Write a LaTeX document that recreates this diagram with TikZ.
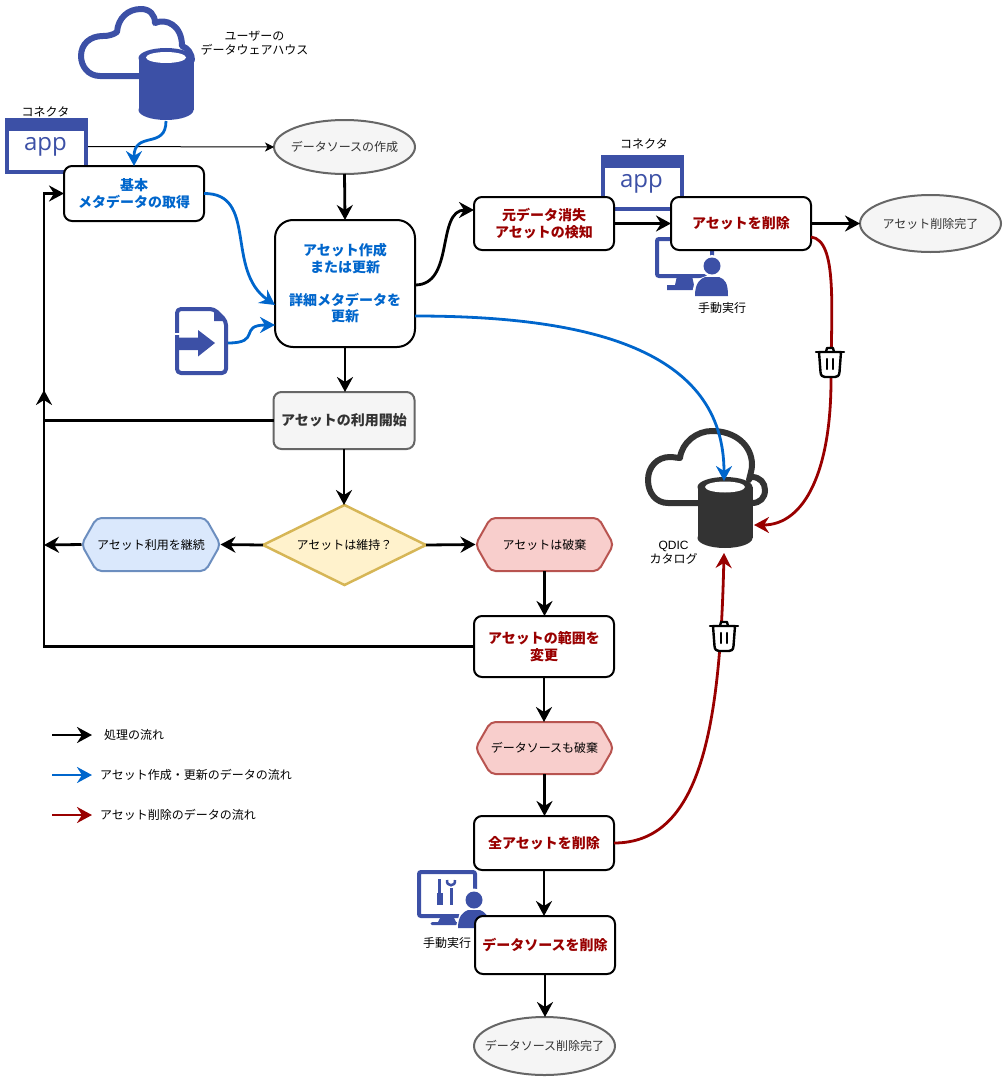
\documentclass[tikz,border=0pt]{standalone}
\usepackage{fontspec}
\setmainfont{Noto Sans CJK JP}
\newfontfamily\appfont{Open Sans}
\newfontfamily\latinfont{Liberation Sans}
\usetikzlibrary{arrows.meta,backgrounds,calc,shapes.geometric}
\definecolor{iconblue}{HTML}{3C50A6}
\definecolor{icondark}{HTML}{333333}
\definecolor{flowblue}{HTML}{0066CC}
\definecolor{flowred}{HTML}{990000}
\definecolor{greyfill}{HTML}{F5F5F5}
\definecolor{greyline}{HTML}{666666}
\definecolor{greytext}{HTML}{333333}
\definecolor{yellowline}{HTML}{D6B656}
\definecolor{yellowfill}{HTML}{FFF2CC}
\definecolor{hblueline}{HTML}{6C8EBF}
\definecolor{hbluefill}{HTML}{DAE8FC}
\definecolor{hredline}{HTML}{B85450}
\definecolor{hredfill}{HTML}{F8CECC}
\tikzset{
  x=1pt,y=-1pt,
  every node/.style={inner sep=0pt,outer sep=0pt,align=center},
  reg/.style={font=\fontsize{12}{14}\selectfont},
  boldf/.style={font=\fontsize{14}{16.5}\selectfont\bfseries},
  procbox/.style={draw=black,line width=2pt,fill=white,rounded corners=8pt,boldf},
  ellbox/.style={ellipse,inner xsep=-15pt,inner ysep=-3pt,draw=greyline,line width=2pt,fill=greyfill,text=greytext,reg},
  hexbox/.style={reg,minimum height=53pt,minimum width=138pt},
  hexpath/.style={line width=2pt,rounded corners=5pt,line join=round},
  flowtip/.style={-{Stealth[length=15pt,width=16pt,inset=5pt]}},
  flow/.style={draw=black,line width=2.8pt,flowtip},
  bflow/.style={draw=flowblue,line width=2.8pt,flowtip},
  rflow/.style={draw=flowred,line width=2.8pt,flowtip},
  thinflow/.style={draw=black,line width=1pt,-{Stealth[length=9pt,width=9pt,inset=2.5pt]}},
  iconline/.style={draw=iconblue,line width=6pt,line cap=round,line join=round},
  darkline/.style={draw=icondark,line width=6pt,line cap=round,line join=round},
  trashline/.style={draw=black,line width=2.4pt,line cap=round,line join=round,fill=white},
}
\newcommand{\appicon}[2]{%
  \fill[iconblue] (#1,#2) rectangle ++(83,56);
  \fill[white] (#1+4,#2+13) rectangle ++(75,39);
  \node[text=iconblue,font=\appfont\fontsize{24}{26}\selectfont] at (#1+40.5,#2+28.5) {app};
}
\newcommand{\trashicon}[2]{%
  \begin{scope}[shift={(#1,#2)}]
    \draw[trashline] (-4,-11) -- (-3,-15) -- (3,-15) -- (4,-11);
    \draw[trashline] (-11,-11) -- (-9.5,9) .. controls (-9.3,13) and (-7,14) .. (-5,14) -- (5,14) .. controls (7,14) and (9.3,13) .. (9.5,9) -- (11,-11) -- cycle;
    \draw[trashline] (-14,-11) -- (14,-11);
    \draw[trashline] (-3,-4) -- (-3,6) (3,-4) -- (3,6);
  \end{scope}
}
\begin{document}
\begin{tikzpicture}
\useasboundingbox (0,0) rectangle (1007,1081);

% warehouse cloud
\draw[iconline] (140,76) -- (100,76) .. controls (88,76) and (81,66) .. (81,56)
  .. controls (81,44) and (90,36) .. (103,36) .. controls (108,36) and (113,35) .. (117,32)
  .. controls (118,18) and (128,9) .. (141,9) .. controls (150,9) and (155,15) .. (155,23)
  .. controls (166,18) and (182,25) .. (182,46) .. controls (188,48) and (192,54) .. (192,60);
\fill[iconblue] (166,58) ellipse [x radius=27.5,y radius=10];
\fill[iconblue] (138.5,58) rectangle (193.5,110);
\fill[iconblue] (166,110) ellipse [x radius=27.5,y radius=10];
\fill[white] (166,57.5) ellipse [x radius=20,y radius=5.5];
\coordinate (whbottom) at (166,121);

% catalog cloud
\draw[darkline] (700,503) -- (668,503) .. controls (656,503) and (648,493) .. (648,480)
  .. controls (648,467) and (657,457) .. (670,457) .. controls (674,457) and (677,458) .. (680,458)
  .. controls (682,442) and (697,431) .. (712,431) .. controls (735,431) and (752,445) .. (752,465)
  .. controls (752,470) and (750,475) .. (749,480);
\draw[darkline] (752,477) .. controls (760,477) and (765,483) .. (765,490)
  .. controls (765,498) and (760,503) .. (752,503);
\fill[icondark] (725,487) ellipse [x radius=27.5,y radius=10];
\fill[icondark] (697.5,487) rectangle (752.5,538);
\fill[icondark] (725,538) ellipse [x radius=27.5,y radius=10];
\fill[white] (725,487) ellipse [x radius=20,y radius=5.5];
\coordinate (cattop) at (724,481);
\coordinate (catright) at (754,525);
\coordinate (catbottom) at (724,553);

% app icons
\appicon{5}{118}
\appicon{601}{155}
\coordinate (app1out) at (88,146.5);

% document icon
\draw[iconblue,line width=4pt,line join=round,rounded corners=4pt] (177,309) -- (214,309) -- (226,321) -- (226,373) -- (177,373) -- cycle;
\fill[iconblue] (214,309) -- (226,321) -- (214,321) -- cycle;
\fill[white] (172,333) rectangle (196,335);
\fill[iconblue] (175,337.5) -- (198,337.5) -- (198,330) -- (215,343) -- (198,356.5) -- (198,350) -- (175,350) -- cycle;
\coordinate (docout) at (228,343);

% manual icon near delete
\draw[iconblue,line width=4pt,rounded corners=2pt] (657,239) rectangle (712,276);
\fill[iconblue] (677,276) -- (692,276) -- (694,285) -- (697,285) -- (697,290) -- (667,290) -- (667,285) -- (675,285) -- cycle;
\fill[white] (712,266) circle (11);
\fill[white] (691,298) -- (695,280) -- (712,274) -- (730,280) -- (733,298) -- cycle;
\fill[iconblue] (712,266) circle (8.5);
\fill[iconblue] (695,296) .. controls (695,283) and (700,279) .. (705,277) -- (719,277) .. controls (725,279) and (728,283) .. (728,296) -- cycle;

% manual icon with tools
\draw[iconblue,line width=4pt,rounded corners=2pt] (419,872) rectangle (475,916);
\fill[iconblue] (440,918) -- (454,918) -- (456,922) -- (461,922) .. controls (463,923) and (463,925) .. (461,925) -- (432,925) .. controls (430,925) and (430,922) .. (432,922) -- (438,922) -- cycle;
\fill[iconblue] (438,879) rectangle (441,893);
\fill[iconblue] (436.5,893) -- (442.5,893) -- (442.5,905) -- (436.5,905) -- cycle;
\fill[iconblue] (449.5,888) rectangle (453,905);
\draw[iconblue,line width=2.5pt] (447,880) .. controls (446,887) and (456,887) .. (455,880);
\fill[white] (474,900) circle (11.5);
\fill[white] (455,930) -- (460,912) -- (474,908) -- (488,912) -- (492,930) -- cycle;
\fill[iconblue] (474,900) circle (8.5);
\fill[iconblue] (458,928) .. controls (458,916) and (463,912) .. (468,910) -- (480,910) .. controls (485,912) and (490,916) .. (490,928) -- cycle;

% text labels
\node[reg] (lblwh) at (254.5,43.5) {ユーザーの\\データウェアハウス};
\node[reg] (lblconn1) at (45.5,111.5) {コネクタ};
\node[reg] (lblconn2) at (644,143.5) {コネクタ};
\node[reg] (lblman1) at (722,307.5) {手動実行};
\node[reg] (lblman2) at (447,942.5) {手動実行};
\node[reg] (lblcat) at (673.5,553) {{\latinfont QDIC}\\カタログ};

% nodes
\node[procbox,text=flowblue,minimum width=140pt,minimum height=55pt] (basic) at (134,193.5) {基本\\メタデータの取得};
\node[procbox,text=flowblue,rounded corners=18pt,minimum width=140pt,minimum height=127pt] (create) at (345,283.5) {アセット作成\\または更新\\[16.5pt]詳細メタデータを\\更新};
\node[ellbox,minimum width=141pt,minimum height=54pt] (dsnew) at (344.5,147) {データソースの作成};
\node[procbox,draw=greyline,fill=greyfill,text=greytext,minimum width=141pt,minimum height=57pt] (start) at (344,420.5) {アセットの利用開始};
\node[procbox,text=flowred,minimum width=140pt,minimum height=53pt] (missing) at (544,223.5) {元データ消失\\アセットの検知};
\node[procbox,text=flowred,minimum width=140pt,minimum height=53pt] (delete) at (741,223.5) {アセットを削除};
\node[ellbox,minimum width=141pt,minimum height=57pt] (done) at (930.5,223.5) {アセット削除完了};
\node[reg,minimum width=163pt,minimum height=80pt] (keep) at (344.5,545) {アセットは維持？};
\node[hexbox,minimum width=139pt] (cont) at (151,544.5) {アセット利用を継続};
\node[hexbox] (discard) at (544.5,544.5) {アセットは破棄};
\node[procbox,text=flowred,minimum width=140pt,minimum height=61pt] (scope) at (544,646.5) {アセットの範囲を\\変更};
\node[hexbox,minimum height=52pt] (dsdiscard) at (544.5,748) {データソースも破棄};
\node[procbox,text=flowred,minimum width=140pt,minimum height=54pt] (delall) at (544,843) {全アセットを削除};
\node[procbox,text=flowred,minimum width=140pt,minimum height=58pt] (delds) at (545,945) {データソースを削除};
\node[ellbox,minimum width=141pt,minimum height=58pt] (end) at (544.5,1046) {データソース削除完了};

\begin{scope}[on background layer]
  \draw[line width=2.5pt,draw=yellowline,fill=yellowfill,line join=miter] (keep.north) -- (keep.east) -- (keep.south) -- (keep.west) -- cycle;
  \draw[hexpath,draw=hblueline,fill=hbluefill] ([xshift=15pt]cont.north west) -- ([xshift=-15pt]cont.north east) -- (cont.east) -- ([xshift=-15pt]cont.south east) -- ([xshift=15pt]cont.south west) -- (cont.west) -- cycle;
  \draw[hexpath,draw=hredline,fill=hredfill] ([xshift=15pt]discard.north west) -- ([xshift=-15pt]discard.north east) -- (discard.east) -- ([xshift=-15pt]discard.south east) -- ([xshift=15pt]discard.south west) -- (discard.west) -- cycle;
  \draw[hexpath,draw=hredline,fill=hredfill] ([xshift=15pt]dsdiscard.north west) -- ([xshift=-15pt]dsdiscard.north east) -- (dsdiscard.east) -- ([xshift=-15pt]dsdiscard.south east) -- ([xshift=15pt]dsdiscard.south west) -- (dsdiscard.west) -- cycle;
\end{scope}

% connectors
\draw[thinflow] (app1out) -- (dsnew.west);
\draw[bflow] (whbottom) .. controls (166,150) and (134,130) .. (basic.north);
\draw[flow] (dsnew.south) -- (create.north);
\draw[flow] (create.south) -- (create.south |- start.north);
\draw[flow] (start.south) -- (start.south |- keep.north);
\draw[flow] (keep.west) -- (cont.east);
\draw[flow] (keep.east) -- (discard.west);
\draw[flow] (discard.south) -- (discard.south |- scope.north);
\draw[flow] (scope.south) -- (scope.south |- dsdiscard.north);
\draw[flow] (dsdiscard.south) -- (dsdiscard.south |- delall.north);
\draw[flow] (delall.south) -- (delall.south |- delds.north);
\draw[flow] (delds.south) -- (delds.south |- end.north);
\draw[flow] (missing.east) -- (delete.west);
\draw[flow] (delete.east) -- (done.west);
\coordinate (leftrail) at (44,390);
\coordinate (contout) at (44,545);
\draw[flow] (cont.west) -- (contout);
\draw[flow] (start.west) -- (44,420.5) -- (44,193.5) -- (basic.west);
\draw[flow] (scope.west) -- (44,646.5) -- (leftrail);
\draw[bflow] (basic.east) .. controls (258,193) and (225,270) .. ([yshift=-21.5pt]create.west);
\draw[bflow] (docout) .. controls (262,343) and (238,325) .. ([yshift=-41.5pt]create.west);
\draw[flow] ([yshift=-1.5pt]create.east) .. controls (455,285) and (436,210) .. ([yshift=13.5pt]missing.west);
\draw[bflow] ([yshift=-32.5pt]create.east) .. controls (590,316) and (724,350) .. (cattop);
\draw[rflow] ([yshift=-13.5pt]delete.east) .. controls (838,240) and (831,310) .. (831,380) .. controls (831,470) and (805,525) .. (catright);
\draw[rflow] (delall.east) .. controls (700,843) and (720,730) .. (catbottom);

% trash icons on connectors
\trashicon{830}{363}
\trashicon{724}{637}

% legend
\coordinate (l1a) at (52,735); \coordinate (l1b) at (92,735);
\coordinate (l2a) at (52,775); \coordinate (l2b) at (92,775);
\coordinate (l3a) at (52,815); \coordinate (l3b) at (92,815);
\draw[flow] (l1a) -- (l1b);
\draw[bflow] (l2a) -- (l2b);
\draw[rflow] (l3a) -- (l3b);
\node[reg,anchor=west] (leg1) at (104,735) {処理の流れ};
\node[reg,anchor=west] (leg2) at (100,775) {アセット作成・更新のデータの流れ};
\node[reg,anchor=west] (leg3) at (100,814.5) {アセット削除のデータの流れ};
\end{tikzpicture}
\end{document}
